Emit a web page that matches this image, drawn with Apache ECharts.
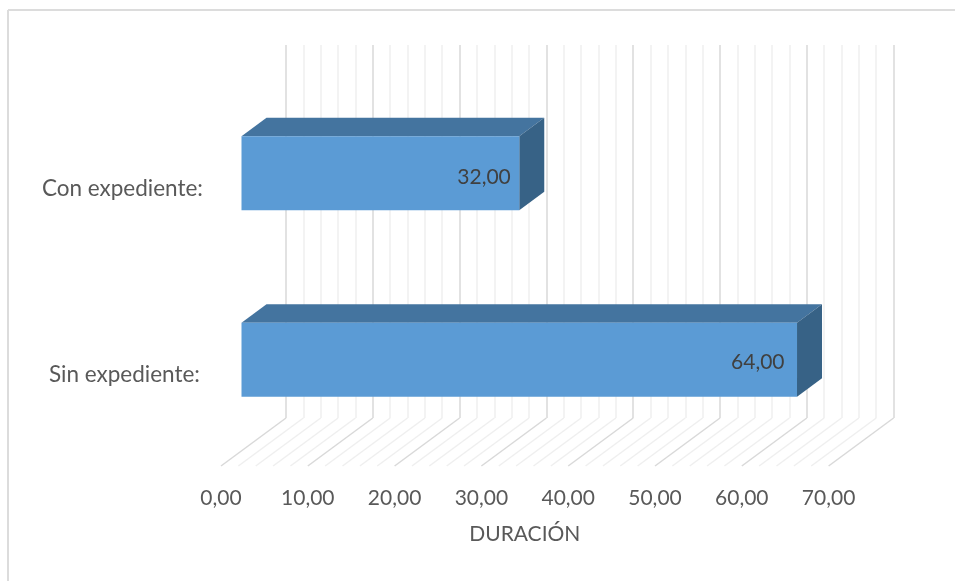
<!DOCTYPE html>
<html>
<head>
<meta charset="utf-8">
<style>html,body{margin:0;padding:0;background:#fff}#chart{width:955px;height:581px}</style>
<script src="https://cdn.jsdelivr.net/npm/echarts@6/dist/echarts.min.js"></script>
</head>
<body>
<div id="chart"></div>
<script>
// Duration per group
const categories = ['Sin expediente:', 'Con expediente:'];
const durations = [64, 32];
const gridTicks = [0, 2, 4, 6, 8, 10, 12, 14, 16, 18, 20, 22, 24, 26, 28, 30, 32, 34,
  36, 38, 40, 42, 44, 46, 48, 50, 52, 54, 56, 58, 60, 62, 64, 66, 68, 70];
const axisTitle = 'DURACIÓN';

// 3D box projection, in pixels
const FLOOR_DX = -65, FLOOR_DY = 48;      // back wall to front edge of floor
const BAR_DX = -44.5, BAR_DY = 35;        // back wall to front face of bars
const BOX_DX = 25, BOX_DY = -18.5;        // front face to rear face of a bar
const BAR_H = 74;
// value label placement inside each bar: distance from the bar end, drop from its middle
const LABEL_INSET = [12.5, 8.5];
const LABEL_DROP = [2, 3.5];

const comma = v => v.toFixed(2).replace('.', ',');
const FONT = 'Lato';

function renderFloor(params, api) {
  const v = api.value(0);
  const x = api.coord([v, 0])[0];
  const bottom = params.coordSys.y + params.coordSys.height;
  const major = v % 10 === 0;
  return {
    type: 'line',
    shape: { x1: x, y1: bottom, x2: x + FLOOR_DX, y2: bottom + FLOOR_DY },
    style: { stroke: major ? '#d9d9d9' : '#efefef', lineWidth: 1.5 }
  };
}

function renderBar(params, api) {
  const v = api.value(0);
  const c = api.coord([v, api.value(1)]);
  const x0 = api.coord([0, api.value(1)])[0] + BAR_DX;
  const x1 = c[0] + BAR_DX;
  const yc = c[1] + BAR_DY;
  const t = yc - BAR_H / 2, b = yc + BAR_H / 2;
  const i = params.dataIndex;
  return {
    type: 'group',
    children: [
      { type: 'polygon', shape: { points: [[x0, t], [x0 + BOX_DX, t + BOX_DY], [x1 + BOX_DX, t + BOX_DY], [x1, t]] },
        style: { fill: '#44749f' } },
      { type: 'polygon', shape: { points: [[x1, t], [x1 + BOX_DX, t + BOX_DY], [x1 + BOX_DX, b + BOX_DY], [x1, b]] },
        style: { fill: '#376286' } },
      { type: 'rect', shape: { x: x0, y: t, width: x1 - x0, height: b - t },
        style: { fill: '#5b9bd5' } },
      { type: 'text', x: x1 - LABEL_INSET[i], y: yc + LABEL_DROP[i],
        style: { text: comma(v), font: '21px ' + FONT, fill: '#404040', align: 'right', verticalAlign: 'middle' } }
    ]
  };
}

const chart = echarts.init(document.getElementById('chart'), null, { renderer: 'canvas' });
const frameStyle = { stroke: '#dcdcdc', lineWidth: 2 };
const labelStyle = { fontFamily: FONT, fontSize: 22.5, color: '#595959' };
chart.setOption({
  animation: false,
  backgroundColor: '#ffffff',
  graphic: [
    { type: 'line', shape: { x1: 8, y1: 10, x2: 955, y2: 10 }, style: frameStyle },
    { type: 'line', shape: { x1: 8, y1: 10, x2: 8, y2: 581 }, style: frameStyle }
  ],
  grid: [
    // back wall
    { left: 286, top: 45, width: 607.6, height: 373 },
    // front edge of the floor, carries the axis text
    { left: 221, top: 95, width: 607.6, height: 373 }
  ],
  xAxis: [
    {
      gridIndex: 0, type: 'value', min: 0, max: 70, interval: 10,
      axisLine: { show: false }, axisTick: { show: false }, axisLabel: { show: false },
      splitLine: { show: true, lineStyle: { color: '#d9d9d9', width: 1.5 } },
      minorTick: { show: false, splitNumber: 5 },
      minorSplitLine: { show: true, lineStyle: { color: '#efefef', width: 1.5 } }
    },
    {
      gridIndex: 1, type: 'value', min: 0, max: 70, interval: 10,
      axisLine: { show: false }, axisTick: { show: false }, splitLine: { show: false },
      axisLabel: { formatter: comma, fontFamily: FONT, fontSize: 21, color: '#595959', margin: 20 },
      name: axisTitle, nameLocation: 'middle', nameGap: 56,
      nameTextStyle: { fontFamily: FONT, fontSize: 21, color: '#595959' }
    }
  ],
  yAxis: [
    {
      gridIndex: 0, type: 'category', data: categories,
      axisLine: { show: false }, axisTick: { show: false }, axisLabel: { show: false }, splitLine: { show: false }
    },
    {
      gridIndex: 1, type: 'category', data: categories,
      axisLine: { show: false }, axisTick: { show: false }, splitLine: { show: false },
      axisLabel: {
        margin: 18,
        formatter: (value, index) => `{${index === 0 ? 'sin' : 'con'}|${value}}`,
        rich: {
          con: labelStyle,
          sin: Object.assign({}, labelStyle, { padding: [0, 3, 0, 0] })
        }
      }
    }
  ],
  series: [
    {
      type: 'custom', xAxisIndex: 0, yAxisIndex: 0, coordinateSystem: 'cartesian2d', z: 2,
      data: gridTicks.map(v => [v, 0]),
      encode: { x: 0, y: 1 }, renderItem: renderFloor, silent: true
    },
    {
      type: 'custom', xAxisIndex: 0, yAxisIndex: 0, coordinateSystem: 'cartesian2d', z: 3, clip: false,
      data: durations.map((v, i) => [v, i]),
      encode: { x: 0, y: 1 }, renderItem: renderBar, silent: true
    }
  ]
});
</script>
</body>
</html>
